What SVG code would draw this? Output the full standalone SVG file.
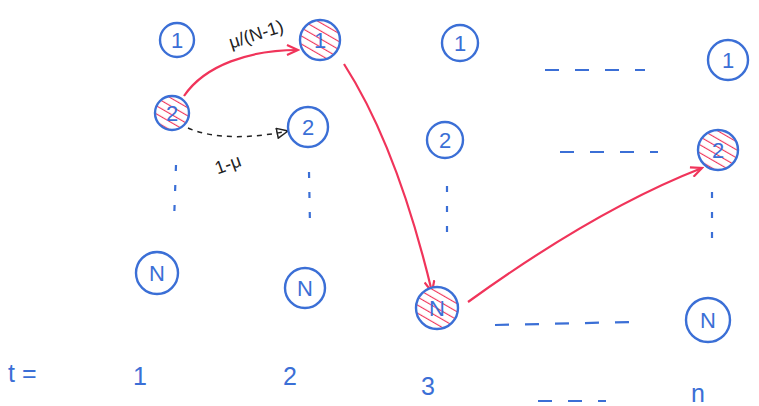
<svg xmlns="http://www.w3.org/2000/svg" width="759" height="406" viewBox="0 0 759 406">
<style>
.n{fill:#fff;stroke:#3b6fd6;stroke-width:2.4}
.h{fill:url(#hatch);stroke:#3b6fd6;stroke-width:2.4}
.t{font-family:"Liberation Sans",sans-serif;font-size:22px;fill:#3b6fd6;text-anchor:middle;dominant-baseline:central}
.b{font-family:"Liberation Sans",sans-serif;font-size:25px;fill:#3b6fd6}
.k{font-family:"Liberation Sans",sans-serif;font-size:18px;fill:#222}
.d{stroke:#3b6fd6;stroke-width:2.2;fill:none;stroke-dasharray:14 16}
.v{stroke:#3b6fd6;stroke-width:2.2;fill:none;stroke-dasharray:6 14}
.r{stroke:#f0345a;stroke-width:2.2;fill:none;marker-end:url(#ra)}
.bk{stroke:#222;stroke-width:1.5;fill:none;stroke-dasharray:5 5;marker-end:url(#ka)}
</style>
<defs>
<pattern id="hatch" patternUnits="userSpaceOnUse" width="7" height="7" patternTransform="rotate(-60)">
<rect width="7" height="7" fill="#fff"/>
<line x1="0" y1="0" x2="0" y2="7" stroke="#f0345a" stroke-width="2.2"/>
</pattern>
<marker id="ra" markerWidth="14" markerHeight="12" refX="12" refY="6" orient="auto" markerUnits="userSpaceOnUse">
<path d="M1,1 L12,6 L1,11" fill="none" stroke="#f0345a" stroke-width="2.2"/>
</marker>
<marker id="ka" markerWidth="14" markerHeight="12" refX="12" refY="6" orient="auto" markerUnits="userSpaceOnUse">
<path d="M1,1 L12,6 L1,11 Z" fill="none" stroke="#222" stroke-width="1.5"/>
</marker>
</defs>
<g id="connectors">
<path class="r" d="M184,96 C205,65 250,50 298,50"/>
<path class="r" d="M344,64 C380,120 410,200 432,292"/>
<path class="r" d="M468,302 C540,250 620,200 702,168"/>
<path class="bk" d="M188,128 C215,140 255,138 288,131"/>
<path class="v" d="M176,165 L174,222"/>
<path class="v" d="M309,172 L310,226"/>
<path class="v" d="M447,186 L447,245"/>
<path class="v" d="M712,192 L712,252"/>
<path class="d" d="M545,70 L645,70"/>
<path class="d" d="M560,152 L658,152"/>
<path class="d" d="M495,325 L632,322"/>
<path class="d" d="M538,401 L606,401" stroke-dasharray="10 12"/>
</g>
<g id="n1_1"><circle class="n" cx="177" cy="40" r="17"/><text class="t" x="177" y="40">1</text></g>
<g id="n1_2"><circle class="h" cx="172" cy="113" r="17"/><text class="t" x="172" y="113">2</text></g>
<g id="n1_N"><circle class="n" cx="157" cy="273" r="21"/><text class="t" x="157" y="273">N</text></g>
<g id="n2_1"><circle class="h" cx="320" cy="40" r="20"/><text class="t" x="320" y="40">1</text></g>
<g id="n2_2"><circle class="n" cx="308" cy="127" r="20"/><text class="t" x="308" y="127">2</text></g>
<g id="n2_N"><circle class="n" cx="305" cy="288" r="20"/><text class="t" x="305" y="288">N</text></g>
<g id="n3_1"><circle class="n" cx="460" cy="43" r="18"/><text class="t" x="460" y="43">1</text></g>
<g id="n3_2"><circle class="n" cx="445" cy="140" r="18"/><text class="t" x="445" y="140">2</text></g>
<g id="n3_N"><circle class="h" cx="437" cy="308" r="21"/><text class="t" x="437" y="308">N</text></g>
<g id="nn_1"><circle class="n" cx="728" cy="60" r="20"/><text class="t" x="728" y="60">1</text></g>
<g id="nn_2"><circle class="h" cx="718" cy="150" r="20"/><text class="t" x="718" y="150">2</text></g>
<g id="nn_N"><circle class="n" cx="708" cy="320" r="22"/><text class="t" x="708" y="320">N</text></g>
<g id="labels">
<text class="k" x="258" y="40" transform="rotate(-18 258 40)" text-anchor="middle">μ/(N-1)</text>
<text class="k" x="230" y="170" transform="rotate(-20 230 170)" text-anchor="middle">1-μ</text>
<text class="b" x="8" y="382">t =</text>
<text class="b" x="140" y="385" text-anchor="middle">1</text>
<text class="b" x="290" y="385" text-anchor="middle">2</text>
<text class="b" x="428" y="395" text-anchor="middle">3</text>
<text class="b" x="698" y="402" text-anchor="middle">n</text>
</g>
</svg>
